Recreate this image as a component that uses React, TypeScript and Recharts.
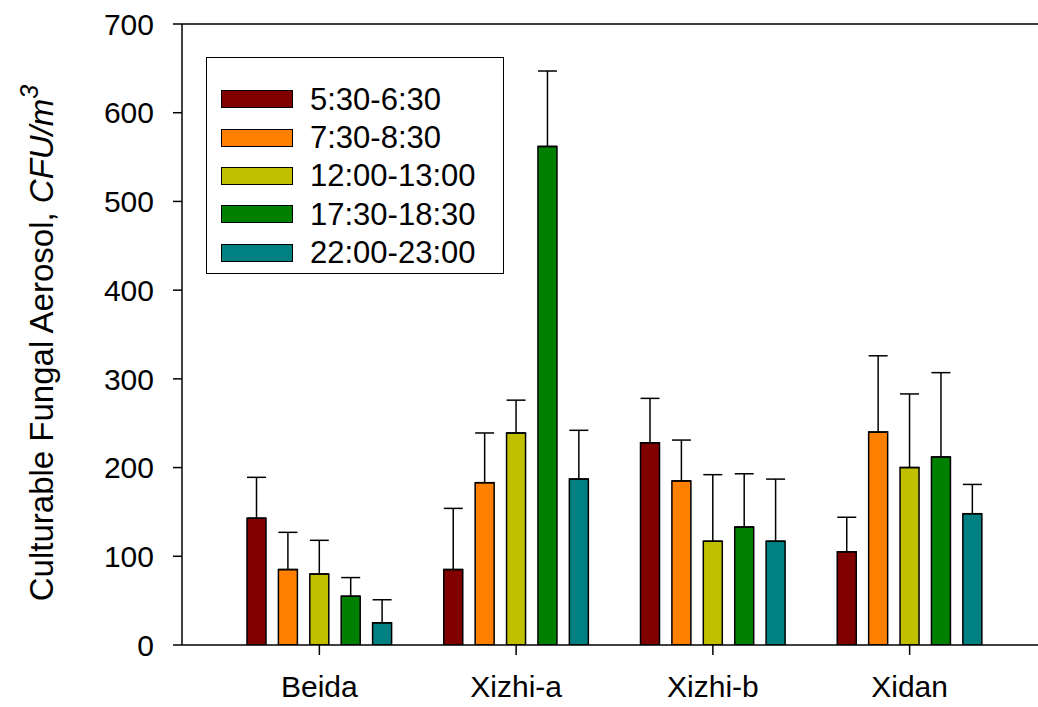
import React from 'react'
import { BarChart, Bar, XAxis, YAxis, ErrorBar, ReferenceLine } from 'recharts'

const sites = ['Beida', 'Xizhi-a', 'Xizhi-b', 'Xidan']
const periods = ['5:30-6:30', '7:30-8:30', '12:00-13:00', '17:30-18:30', '22:00-23:00']
const colors = ['#800000', '#FF8000', '#C0C000', '#008000', '#008080']

// mean values per period, one entry per site
const early = [143, 85, 228, 105]
const morning = [85, 183, 185, 240]
const noon = [80, 239, 117, 200]
const evening = [55, 562, 133, 212]
const night = [25, 187, 117, 148]

// upper error (std) per period
const earlyErr = [46, 69, 50, 39]
const morningErr = [42, 56, 46, 86]
const noonErr = [38, 37, 75, 83]
const eveningErr = [21, 85, 60, 95]
const nightErr = [26, 55, 70, 33]

const yTicks = [0, 100, 200, 300, 400, 500, 600, 700]

const series = [early, morning, noon, evening, night]
const errors = [earlyErr, morningErr, noonErr, eveningErr, nightErr]

const rows = sites.map((site, i) => {
  const row: any = { site }
  series.forEach((s, k) => {
    row['v' + k] = s[i]
    row['e' + k] = errors[k][i]
  })
  return row
})

const font = '"Liberation Sans", Arial, sans-serif'

function LegendBox() {
  return (
    <div style={{ position: 'absolute', left: 206, top: 57, width: 298, height: 217, border: '1.5px solid #000', boxSizing: 'border-box', background: '#fff', paddingTop: 22, paddingLeft: 14, fontFamily: font }}>
      {periods.map((p, i) => (
        <div key={p} style={{ display: 'flex', alignItems: 'center', height: 38.4 }}>
          <div style={{ width: 72, height: 18, background: colors[i], border: '1.5px solid #000', boxSizing: 'border-box' }} />
          <span style={{ marginLeft: 17, fontSize: 31, color: '#000', lineHeight: '31px' }}>{p}</span>
        </div>
      ))}
    </div>
  )
}

function YLabel() {
  return (
    <text x={53} y={343} transform="rotate(-90 53 343)" textAnchor="middle" fontSize={33} fontFamily={font} fill="#000">
      Culturable Fungal Aerosol,{'  '}
      <tspan fontStyle="italic">CFU/m</tspan>
      <tspan fontStyle="italic" dy={-15} fontSize={25}>3</tspan>
    </text>
  )
}

export default function App() {
  return (
    <div style={{ position: 'absolute', left: 0, top: 0, width: 1038, height: 707, background: '#fff' }}>
      <BarChart width={1038} height={707} data={rows} margin={{ top: 24, right: 0, left: 0, bottom: 0 }} barSize={19} barGap={12.4}>
        <XAxis
          dataKey="site"
          padding={{ left: 39, right: 30 }}
          height={62}
          stroke="#000"
          strokeWidth={1.5}
          tickSize={10}
          tickMargin={21}
          tick={{ fontSize: 30, fill: '#000', fontFamily: font }}
        />
        <YAxis
          domain={[0, 700]}
          ticks={yTicks}
          allowDataOverflow
          width={182}
          stroke="#000"
          strokeWidth={1.5}
          tickSize={9}
          tickMargin={19}
          tick={{ fontSize: 30, fill: '#000', fontFamily: font }}
          label={{ content: () => <YLabel /> }}
        />
        <ReferenceLine y={700} stroke="#000" strokeWidth={1.5} />
        {series.map((_, k) => (
          <Bar key={k} dataKey={'v' + k} name={periods[k]} fill={colors[k]} stroke="#000" strokeWidth={1.5} isAnimationActive={false}>
            <ErrorBar dataKey={(d: any) => [0, d['e' + k]]} width={9.5} stroke="#000" strokeWidth={1.5} direction="y" />
          </Bar>
        ))}
      </BarChart>
      <LegendBox />
    </div>
  )
}
